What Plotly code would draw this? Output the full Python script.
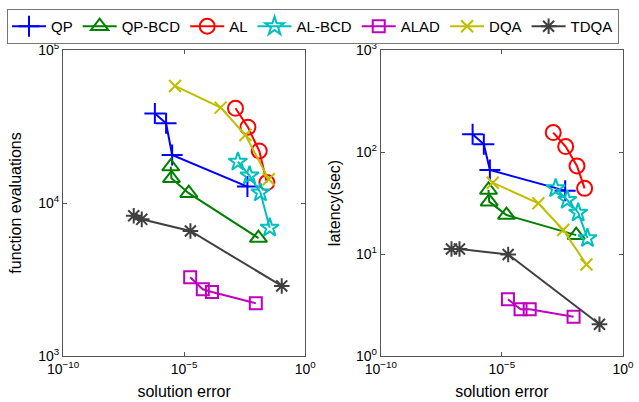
import plotly.graph_objects as go

# ---- data ----
algorithms = ["QP", "QP-BCD", "AL", "AL-BCD", "ALAD", "DQA", "TDQA"]

QP_err = [6.2e-7, 1.8e-6, 3.2e-6, 4.1e-3]
QP_fevals = [38500, 33200, 20600, 12800]
QP_latency = [149, 119, 66.7, 41.8]

QPBCD_err = [2.8e-6, 3.0e-6, 1.55e-5, 1.17e-2]
QPBCD_fevals = [17300, 14500, 11600, 5900]
QPBCD_latency = [42.4, 32.6, 24.1, 15.3]

AL_err = [1.32e-3, 4.3e-3, 1.26e-2, 2.6e-2]
AL_fevals = [41600, 31300, 21900, 13600]
AL_latency = [155, 113, 73, 44]

ALBCD_err = [1.66e-3, 5.0e-3, 1.41e-2, 3.4e-2]
ALBCD_fevals = [18600, 15100, 11700, 6900]
ALBCD_latency = [44, 33.8, 25.4, 14.3]

ALAD_err = [1.78e-5, 5.9e-5, 1.41e-4, 9.1e-3]
ALAD_fevals = [3270, 2730, 2620, 2210]
ALAD_latency = [3.6, 2.87, 2.87, 2.43]

DQA_err = [4.2e-6, 3.2e-4, 3.4e-3, 3.1e-2]
DQA_fevals = [58200, 42000, 27800, 14300]
DQA_latency = [50, 31.4, 17.2, 7.9]

TDQA_err = [8.3e-8, 1.78e-7, 1.82e-5, 0.107]
TDQA_fevals = [8260, 7820, 6560, 2870]
TDQA_latency = [11.2, 11.2, 9.9, 2.05]

x_tickvals = [1e-10, 1e-5, 1e0]
x_ticktext = ["10<sup>−10</sup>", "10<sup>−5</sup>", "10<sup>0</sup>"]
fe_tickvals = [1e3, 1e4, 1e5]
fe_ticktext = ["10<sup>3</sup>", "10<sup>4</sup>", "10<sup>5</sup>"]
lat_tickvals = [1e0, 1e1, 1e2, 1e3]
lat_ticktext = ["10<sup>0</sup>", "10<sup>1</sup>", "10<sup>2</sup>", "10<sup>3</sup>"]

err = [QP_err, QPBCD_err, AL_err, ALBCD_err, ALAD_err, DQA_err, TDQA_err]
fevals = [QP_fevals, QPBCD_fevals, AL_fevals, ALBCD_fevals, ALAD_fevals, DQA_fevals, TDQA_fevals]
latency = [QP_latency, QPBCD_latency, AL_latency, ALBCD_latency, ALAD_latency, DQA_latency, TDQA_latency]

# ---- styles ----
colors = ["#0000ff", "#008000", "#ff0000", "#00bfbf", "#bf00bf", "#bfbf00", "#404040"]
symbols = ["cross-thin-open", "triangle-up-open", "circle-open", "star-open",
           "square-open", "x-thin-open", "asterisk-open"]
sizes = [15, 15, 15, 14, 12, 12, 13]

FONT = "Liberation Sans, Arial, Helvetica, sans-serif"

fig = go.Figure()
for i, name in enumerate(algorithms):
    mk = dict(symbol=symbols[i], size=sizes[i], color=colors[i],
              line=dict(color=colors[i], width=2))
    fig.add_trace(go.Scatter(x=err[i], y=fevals[i], name=name, mode="lines+markers",
                             line=dict(color=colors[i], width=2), marker=mk,
                             xaxis="x", yaxis="y", legendgroup=name))
    fig.add_trace(go.Scatter(x=err[i], y=latency[i], name=name, mode="lines+markers",
                             line=dict(color=colors[i], width=2), marker=mk,
                             xaxis="x2", yaxis="y2", legendgroup=name, showlegend=False))

axis_common = dict(type="log", showgrid=False, zeroline=False, showline=True,
                   linecolor="#555555", linewidth=1, mirror="ticks", ticks="inside",
                   ticklen=4, tickcolor="#555555", automargin=False,
                   tickfont=dict(family=FONT, size=14, color="black"))

left_dom = [0, 0.4326]
right_dom = [0.5674, 1]

fig.update_layout(
    width=639, height=402,
    margin=dict(l=63, r=16, t=50, b=46, autoexpand=False),
    paper_bgcolor="white", plot_bgcolor="white",
    font=dict(family=FONT, color="black"),
    xaxis=dict(axis_common, domain=left_dom, range=[-10, 0], anchor="y",
               tickmode="array", tickvals=x_tickvals, ticktext=x_ticktext,
               title=dict(text="solution error", font=dict(size=16), standoff=10)),
    yaxis=dict(axis_common, range=[3, 5], anchor="x",
               tickmode="array", tickvals=fe_tickvals, ticktext=fe_ticktext,
               title=dict(text="function evaluations", font=dict(size=16), standoff=12)),
    xaxis2=dict(axis_common, domain=right_dom, range=[-10, 0], anchor="y2",
                tickmode="array", tickvals=x_tickvals, ticktext=x_ticktext,
                title=dict(text="solution error", font=dict(size=16), standoff=10)),
    yaxis2=dict(axis_common, range=[0, 3], anchor="x2",
                tickmode="array", tickvals=lat_tickvals, ticktext=lat_ticktext,
                title=dict(text="latency(sec)", font=dict(size=16), standoff=11)),
    legend=dict(orientation="h", x=-0.1, xanchor="left", y=1.134, yanchor="top",
                bordercolor="#777777", borderwidth=1, bgcolor="white",
                font=dict(family=FONT, size=15, color="black"),
                itemwidth=34, tracegroupgap=0),
    showlegend=True,
)

fig.write_html("out.html", config={"displayModeBar": False},
               post_script="document.body.style.margin='0';")
